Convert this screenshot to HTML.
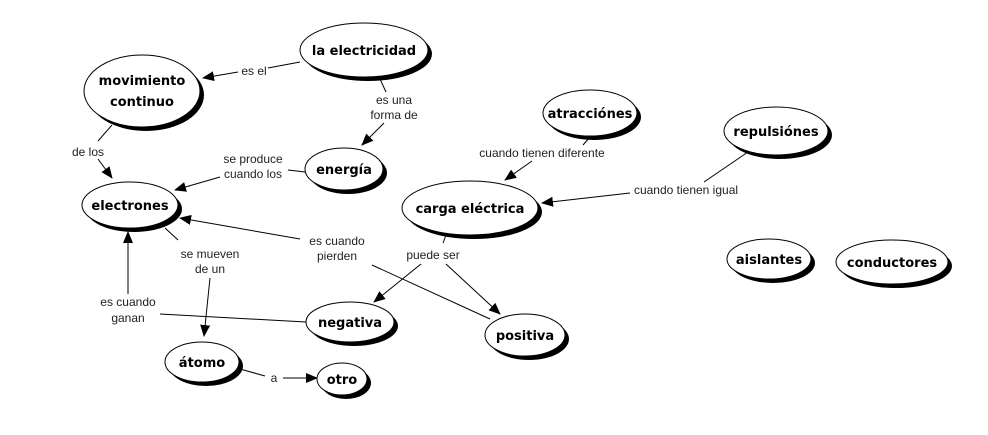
<!DOCTYPE html>
<html><head><meta charset="utf-8"><style>
html,body{margin:0;padding:0;background:#fff;}
svg{display:block;}
.n{font-family:"DejaVu Sans","Liberation Sans",sans-serif;font-weight:bold;font-size:13px;fill:#000;text-anchor:middle;}
.l{font-family:"Liberation Sans",sans-serif;font-size:12px;fill:#222;text-anchor:middle;}
line{stroke:#000;stroke-width:1;}
</style></head><body>
<svg width="988" height="435" viewBox="0 0 988 435" xmlns="http://www.w3.org/2000/svg">
<defs>
<marker id="a" markerWidth="12" markerHeight="10" refX="11" refY="5" orient="auto" markerUnits="userSpaceOnUse">
<path d="M0,0 L12,5 L0,10 z" fill="#000"/></marker>
</defs>
<g id="lines">
<line x1="300" y1="62" x2="268" y2="68"/>
<line x1="238" y1="72" x2="203" y2="78" marker-end="url(#a)"/>
<line x1="380" y1="79" x2="386" y2="92"/>
<line x1="384" y1="123" x2="362" y2="145" marker-end="url(#a)"/>
<line x1="305" y1="172" x2="288" y2="170"/>
<line x1="220" y1="177" x2="175" y2="190" marker-end="url(#a)"/>
<line x1="112" y1="125" x2="98" y2="141"/>
<line x1="98" y1="159" x2="112" y2="178" marker-end="url(#a)"/>
<line x1="165" y1="228" x2="178" y2="240"/>
<line x1="210" y1="278" x2="204" y2="336" marker-end="url(#a)"/>
<line x1="306" y1="322" x2="160" y2="314"/>
<line x1="128" y1="294" x2="128" y2="232" marker-end="url(#a)"/>
<line x1="490" y1="319" x2="372" y2="265"/>
<line x1="300" y1="239" x2="180" y2="218" marker-end="url(#a)"/>
<line x1="240" y1="369" x2="265" y2="376"/>
<line x1="283" y1="378" x2="317" y2="378" marker-end="url(#a)"/>
<line x1="590" y1="137" x2="583" y2="145"/>
<line x1="532" y1="161" x2="505" y2="180" marker-end="url(#a)"/>
<line x1="748" y1="152" x2="704" y2="182"/>
<line x1="630" y1="193" x2="542" y2="203" marker-end="url(#a)"/>
<line x1="446" y1="235" x2="443" y2="243"/>
<line x1="421" y1="264" x2="374" y2="302" marker-end="url(#a)"/>
<line x1="446" y1="264" x2="500" y2="314" marker-end="url(#a)"/>
</g>
<g class="lab">
<text class="l" x="254" y="75">es el</text>
<text class="l" x="394" y="104">es una</text>
<text class="l" x="394" y="119">forma de</text>
<text class="l" x="253" y="163">se produce</text>
<text class="l" x="253" y="178">cuando los</text>
<text class="l" x="88" y="156">de los</text>
<text class="l" x="210" y="258">se mueven</text>
<text class="l" x="210" y="273">de un</text>
<text class="l" x="128" y="306">es cuando</text>
<text class="l" x="128" y="322">ganan</text>
<text class="l" x="337" y="245">es cuando</text>
<text class="l" x="337" y="260">pierden</text>
<text class="l" x="274" y="382">a</text>
<text class="l" x="542" y="157">cuando tienen diferente</text>
<text class="l" x="686" y="194">cuando tienen igual</text>
<text class="l" x="433" y="259">puede ser</text>
</g>
<g id="nodes">
<g><ellipse cx="368" cy="54" rx="64" ry="27" fill="#000"/><ellipse cx="364" cy="50" rx="64" ry="27" fill="#fff" stroke="#000"/><text class="n" x="364" y="55">la electricidad</text></g>
<g><ellipse cx="146" cy="95" rx="58" ry="36" fill="#000"/><ellipse cx="142" cy="91" rx="58" ry="36" fill="#fff" stroke="#000"/><text class="n" x="142" y="85">movimiento</text><text class="n" x="142" y="106">continuo</text></g>
<g><ellipse cx="348" cy="173" rx="39" ry="21" fill="#000"/><ellipse cx="344" cy="169" rx="39" ry="21" fill="#fff" stroke="#000"/><text class="n" x="344" y="174">energía</text></g>
<g><ellipse cx="134" cy="209" rx="48" ry="23" fill="#000"/><ellipse cx="130" cy="205" rx="48" ry="23" fill="#fff" stroke="#000"/><text class="n" x="130" y="210">electrones</text></g>
<g><ellipse cx="474" cy="212" rx="68" ry="27" fill="#000"/><ellipse cx="470" cy="208" rx="68" ry="27" fill="#fff" stroke="#000"/><text class="n" x="470" y="213">carga eléctrica</text></g>
<g><ellipse cx="594" cy="117" rx="47" ry="23" fill="#000"/><ellipse cx="590" cy="113" rx="47" ry="23" fill="#fff" stroke="#000"/><text class="n" x="590" y="118">atracciónes</text></g>
<g><ellipse cx="780" cy="135" rx="52" ry="24" fill="#000"/><ellipse cx="776" cy="131" rx="52" ry="24" fill="#fff" stroke="#000"/><text class="n" x="776" y="136">repulsiónes</text></g>
<g><ellipse cx="773" cy="263" rx="42" ry="20" fill="#000"/><ellipse cx="769" cy="259" rx="42" ry="20" fill="#fff" stroke="#000"/><text class="n" x="769" y="264">aislantes</text></g>
<g><ellipse cx="896" cy="266" rx="56" ry="22" fill="#000"/><ellipse cx="892" cy="262" rx="56" ry="22" fill="#fff" stroke="#000"/><text class="n" x="892" y="267">conductores</text></g>
<g><ellipse cx="354" cy="326" rx="44" ry="20" fill="#000"/><ellipse cx="350" cy="322" rx="44" ry="20" fill="#fff" stroke="#000"/><text class="n" x="350" y="327">negativa</text></g>
<g><ellipse cx="529" cy="339" rx="40" ry="21" fill="#000"/><ellipse cx="525" cy="335" rx="40" ry="21" fill="#fff" stroke="#000"/><text class="n" x="525" y="340">positiva</text></g>
<g><ellipse cx="206" cy="366" rx="37" ry="20" fill="#000"/><ellipse cx="202" cy="362" rx="37" ry="20" fill="#fff" stroke="#000"/><text class="n" x="202" y="367">átomo</text></g>
<g><ellipse cx="346" cy="383" rx="25" ry="16" fill="#000"/><ellipse cx="342" cy="379" rx="25" ry="16" fill="#fff" stroke="#000"/><text class="n" x="342" y="384">otro</text></g>
</g>
</svg>
</body></html>
